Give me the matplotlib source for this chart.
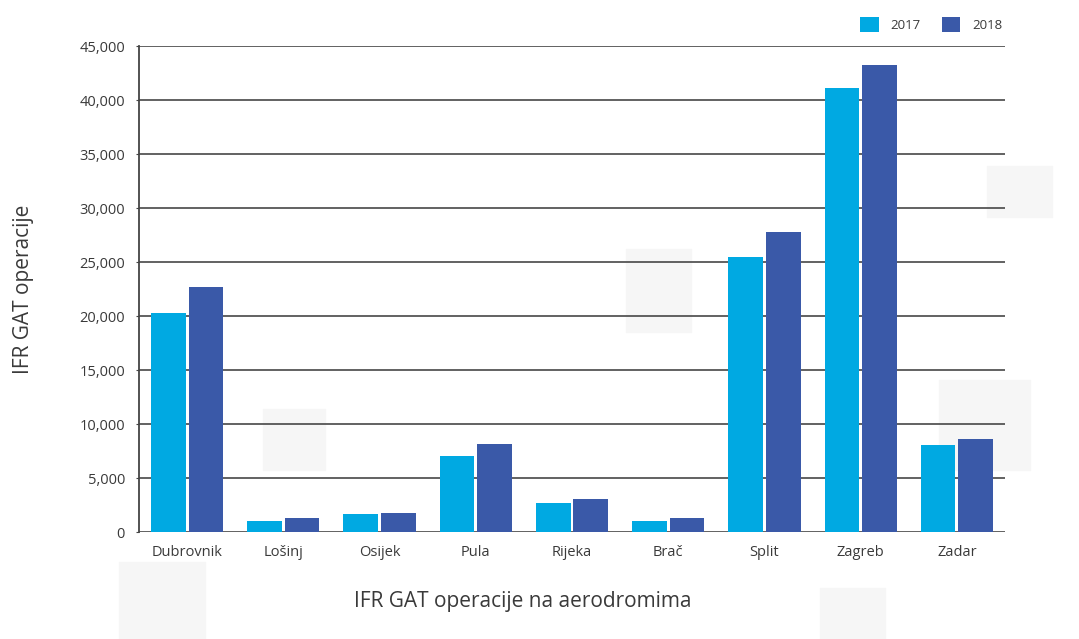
import numpy as np
import matplotlib.pyplot as plt
from matplotlib.patches import Rectangle

plt.rcParams['font.family'] = ['Open Sans', 'DejaVu Sans']

airports = ["Dubrovnik", "Lošinj", "Osijek", "Pula", "Rijeka", "Brač", "Split", "Zagreb", "Zadar"]
ops_2017 = [20250, 1000, 1650, 7050, 2700, 1000, 25500, 41100, 8100]
ops_2018 = [22700, 1300, 1750, 8150, 3050, 1300, 27800, 43200, 8600]
years = ["2017", "2018"]
colors = ["#00a9e2", "#3a59a8"]
text_color = "#3a3a3a"

fig = plt.figure(figsize=(10.79, 6.39), dpi=100)

# faint background decoration (light squares)
for (bx, by, bw, bh) in [(0.58, 0.48, 0.06, 0.13), (0.244, 0.265, 0.057, 0.095),
                          (0.11, 0.0, 0.08, 0.12), (0.87, 0.265, 0.085, 0.14),
                          (0.76, 0.0, 0.06, 0.08), (0.915, 0.66, 0.06, 0.08)]:
    fig.patches.append(Rectangle((bx, by), bw, bh, transform=fig.transFigure,
                                 color="#f6f6f6", zorder=0))

ax = fig.add_axes([0.1288, 0.1674, 0.8026, 0.7606])
ax.set_zorder(2)
ax.patch.set_alpha(0)

x = np.arange(len(airports))
w = 0.36
ax.bar(x - 0.195, ops_2017, width=w, color=colors[0], label=years[0], zorder=3)
ax.bar(x + 0.195, ops_2018, width=w, color=colors[1], label=years[1], zorder=3)

ax.set_xlim(-0.5, len(airports) - 0.5)
ax.set_ylim(0, 45000)
ax.set_yticks(np.arange(0, 45001, 5000))
ax.set_yticklabels([f"{v:,}" for v in range(0, 45001, 5000)], fontsize=10.5, color=text_color)
ax.set_xticks(x)
ax.set_xticklabels(airports, fontsize=10.5, color=text_color)
ax.tick_params(axis="x", length=0, pad=9)
ax.tick_params(axis="y", length=2, pad=8, color="#444444")

ax.grid(axis="y", color="#555555", linewidth=1.3, zorder=1)
for s in ["top", "right", "bottom"]:
    ax.spines[s].set_visible(False)
ax.spines["left"].set_color("#444444")
ax.spines["left"].set_linewidth(1.3)

ax.set_ylabel("IFR GAT operacije", fontsize=15, color=text_color)
ax.set_xlabel("IFR GAT operacije na aerodromima", fontsize=15, color=text_color)
ax.yaxis.set_label_coords(-0.121, 0.5)
ax.xaxis.set_label_coords(0.443, -0.122)

ax.legend(loc="lower right", bbox_to_anchor=(1.006, 1.012), ncol=2, frameon=False,
          fontsize=9.5, handlelength=1.4, handleheight=1.4, columnspacing=1.6,
          handletextpad=0.9, labelcolor=text_color, borderaxespad=0.2)

fig.savefig("out.png", dpi=100)
